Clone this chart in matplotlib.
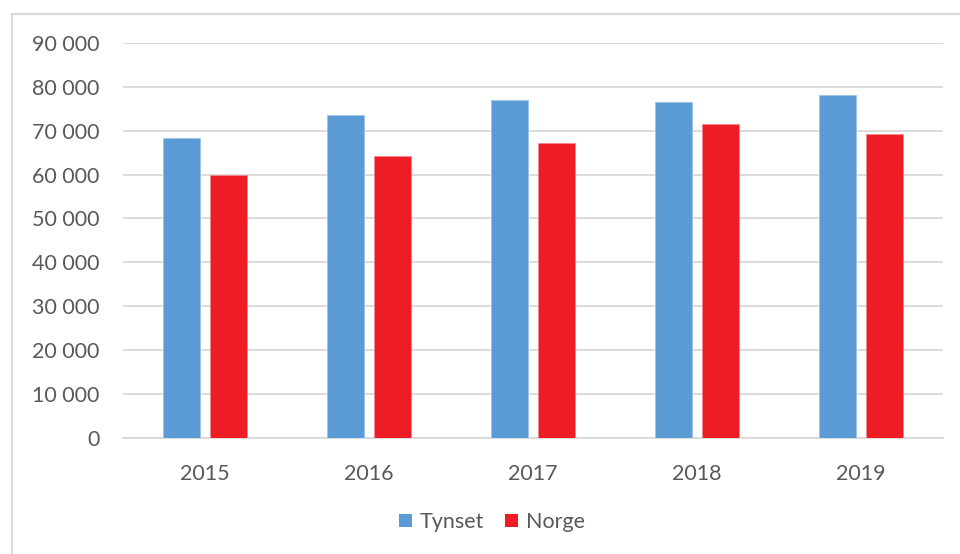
import matplotlib
matplotlib.use("Agg")
import matplotlib.pyplot as plt
from matplotlib.lines import Line2D
from matplotlib.patches import Patch
import numpy as np

years = ["2015", "2016", "2017", "2018", "2019"]
tynset = [68300, 73500, 77100, 76500, 78200]
norge = [59900, 64200, 67100, 71500, 69200]
yticks = [0, 10000, 20000, 30000, 40000, 50000, 60000, 70000, 80000, 90000]
ytick_labels = ["0", "10 000", "20 000", "30 000", "40 000", "50 000",
                "60 000", "70 000", "80 000", "90 000"]

plt.rcParams['font.family'] = ['Lato', 'DejaVu Sans']
text_color = "#595959"

fig = plt.figure(figsize=(9.6, 5.54), dpi=100)
ax = fig.add_axes([123/960, 1-437.7/554, (943-123)/960, (437.7-43)/554])

x = np.arange(len(years))
w = 0.225
off = 0.143
ax.bar(x - off, tynset, width=w, color="#5B9BD5", edgecolor="#9DC3E6", linewidth=0.6, zorder=3, label="Tynset")
ax.bar(x + off, norge, width=w, color="#EE1C24", edgecolor="#F4878B", linewidth=0.6, zorder=3, label="Norge")

ax.set_xlim(-0.5, len(years) - 0.5)
ax.set_ylim(0, 90000)
ax.set_yticks(yticks)
ax.set_yticklabels(ytick_labels)
ax.set_xticks(x)
ax.set_xticklabels(years)
ax.yaxis.grid(True, color="#d9d9d9", linewidth=1.3, zorder=0)
ax.set_axisbelow(True)
for s in ["top", "right", "left"]:
    ax.spines[s].set_visible(False)
ax.spines["bottom"].set_color("#d9d9d9")
ax.spines["bottom"].set_linewidth(1.3)
ax.tick_params(axis="y", length=0, pad=17, labelsize=15.5, labelcolor=text_color)
ax.tick_params(axis="x", length=0, pad=19, labelsize=15.5, labelcolor=text_color)

handles = [Patch(facecolor="#5B9BD5", edgecolor="none"), Patch(facecolor="#EE1C24", edgecolor="none")]
fig.legend(handles, ["Tynset", "Norge"], loc="center", bbox_to_anchor=(492/960, 1-522/554),
           ncol=2, frameon=False, fontsize=15.5, labelcolor=text_color,
           handlelength=0.6, handleheight=0.6, handletextpad=0.35, columnspacing=1.0)

# chart frame (left and top edges visible)
fig.add_artist(Line2D([11.5/960, 11.5/960], [0, 1-14/554], transform=fig.transFigure, color="#d9d9d9", linewidth=1.6))
fig.add_artist(Line2D([11.5/960, 1], [1-14/554, 1-14/554], transform=fig.transFigure, color="#d9d9d9", linewidth=1.6))

fig.savefig("out.png", dpi=100)
